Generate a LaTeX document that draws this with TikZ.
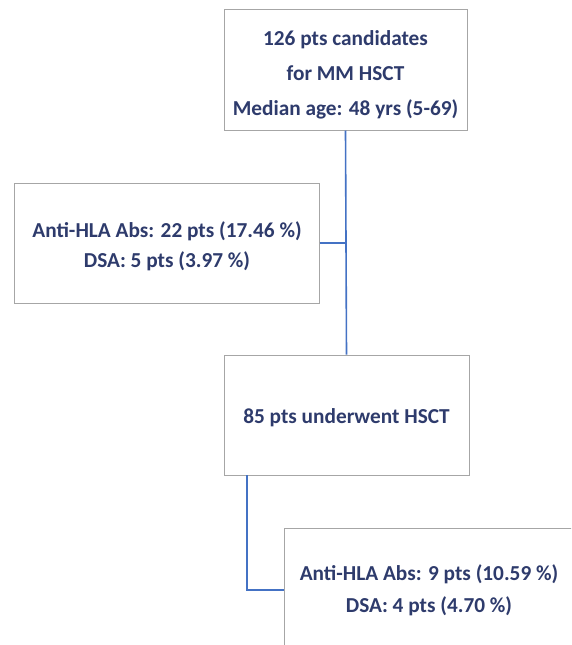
\documentclass[tikz,border=0pt]{standalone}
\usepackage{fontspec}
\setmainfont{Carlito}
\definecolor{txt}{HTML}{2E3B6C}
\definecolor{ln}{HTML}{4472C4}
\definecolor{bd}{HTML}{A6A6A6}
\begin{document}
\begin{tikzpicture}[x=1pt,y=-1pt,
  box/.style={draw=bd,line width=1pt,fill=white,inner sep=0pt},
  lbl/.style={inner sep=0pt,align=center,text=txt,font=\fontsize{21.3}{35}\selectfont\bfseries},
  conn/.style={draw=ln,line width=1.6pt}]
\useasboundingbox (0,0) rectangle (571,645);
\clip (0,0) rectangle (571,645);
\node[box,minimum width=243pt,minimum height=121pt] (top) at (345.5,69.5) {};
\node[lbl] (toptext) at (345.5,74.5) {126 pts candidates\\for MM HSCT\\Median age: 48 yrs (5-69)};
\node[box,minimum width=305pt,minimum height=120pt] (left) at (166.5,243) {};
\node[lbl,font=\fontsize{21.3}{30}\selectfont\bfseries] (lefttext) at (167,246.5)
  {Anti-HLA Abs: 22 pts (17.46 \%)\\DSA: 5 pts (3.97 \%)};
\node[box,minimum width=245pt,minimum height=120pt] (mid) at (346.5,415) {};
\node[lbl] (midtext) at (346.5,418) {85 pts underwent HSCT};
\node[box,minimum width=290pt,minimum height=124pt] (bot) at (429,590) {};
\node[lbl,font=\fontsize{21.3}{32}\selectfont\bfseries] (bottext) at (429,590.5)
  {Anti-HLA Abs: 9 pts (10.59 \%)\\DSA: 4 pts (4.70 \%)};
\coordinate (j1) at (top.south |- left.east);
\draw[conn] (top.south) -- (mid.north);
\draw[conn] (left.east) -- (j1);
\coordinate (mb) at (247,475);
\draw[conn] (mb) |- (bot.west);
\end{tikzpicture}
\end{document}
